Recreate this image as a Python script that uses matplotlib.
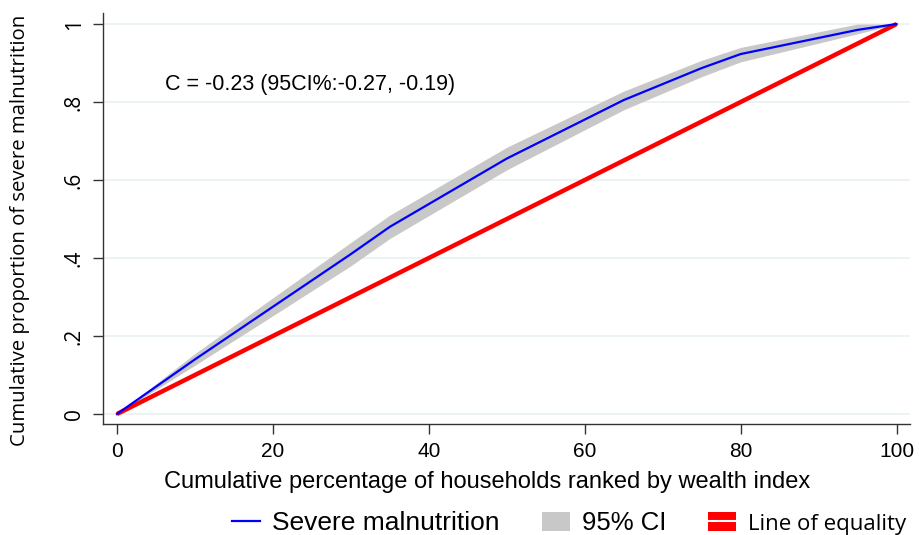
import matplotlib
matplotlib.use("Agg")
import matplotlib.pyplot as plt
from matplotlib.patches import Patch
from matplotlib.lines import Line2D

# Data
pct = [0, 10, 20, 30, 35, 50, 65, 75, 80, 95, 100]
severe = [0, 0.14, 0.275, 0.41, 0.48, 0.655, 0.805, 0.887, 0.923, 0.985, 1.0]
ci_upper = [0, 0.155, 0.298, 0.44, 0.51, 0.684, 0.828, 0.907, 0.94, 1.0, 1.0]
ci_lower = [0, 0.125, 0.252, 0.38, 0.45, 0.626, 0.78, 0.865, 0.903, 0.975, 1.0]
equality_x = [0, 100]
equality_y = [0, 1]
xticks = [0, 20, 40, 60, 80, 100]
yticks = [0, 0.2, 0.4, 0.6, 0.8, 1.0]
yticklabels = ["0", ".2", ".4", ".6", ".8", "1"]
annotation = "C = -0.23 (95CI%:-0.27, -0.19)"

plt.rcParams['font.family'] = ['Liberation Sans', 'DejaVu Sans']

fig = plt.figure(figsize=(9.19, 5.35), dpi=100)
ax = fig.add_axes([0.112, 0.2075, 0.878, 0.768])

for yt in yticks:
    ax.axhline(yt, color='#e9f1f2', lw=1.2, zorder=0)

ax.fill_between(pct, ci_lower, ci_upper, color='#c8c8c8', lw=0, zorder=1)
ax.plot(equality_x, equality_y, color='#ff0000', lw=3.2, zorder=2, solid_capstyle='butt')
ax.plot(pct, severe, color='#0000ff', lw=1.6, zorder=3)

ax.set_xlim(-1.8, 101.7)
ax.set_ylim(-0.0256, 1.028)
ax.set_xticks(xticks)
ax.set_xticklabels([str(x) for x in xticks], fontsize=15)
ax.set_yticks(yticks)
ax.set_yticklabels(yticklabels, fontsize=15, rotation=90, va='center',
                   family=['Open Sans', 'DejaVu Sans'])
ax.tick_params(axis='both', direction='out', length=7, width=1, color='#333333', pad=6)
ax.spines['top'].set_visible(False)
ax.spines['right'].set_visible(False)
for s in ('left', 'bottom'):
    ax.spines[s].set_color('#333333')
    ax.spines[s].set_linewidth(1)

ax.set_xlabel("Cumulative percentage of households ranked by wealth index", fontsize=17)
ax.xaxis.set_label_coords((487 - 103) / (919 * 0.878), (424 - 482) / (535 * 0.768), transform=ax.transAxes)
ax.xaxis.label.set_va('center')
ax.set_ylabel("Cumulative proportion of severe malnutrition", fontsize=14.7,
              family=['Open Sans', 'DejaVu Sans'])
ax.yaxis.set_label_coords((20 - 103) / (919 * 0.878), (424 - 230) / (535 * 0.768), transform=ax.transAxes)
ax.yaxis.label.set_va('center')

ax.text(6.2, 0.846, annotation, fontsize=15.5, va='center', ha='left')

h1 = Line2D([], [], color='#0000ff', lw=1.6)
h2 = Patch(facecolor='#c8c8c8', edgecolor='none')
h3 = (Patch(facecolor='#ff0000', edgecolor='none'), Line2D([], [], color='white', lw=1.5))
leg = fig.legend([h1, h2, h3], ["Severe malnutrition", "95% CI", "Line of equality"],
                 loc='center left', bbox_to_anchor=(0.2525, 0.022), ncol=3, frameon=False,
                 fontsize=18.5, handlelength=1.1, handleheight=0.75, columnspacing=1.62,
                 handletextpad=0.47, borderpad=0, borderaxespad=0)
leg.get_texts()[0].set_fontsize(19)
leg.get_texts()[2].set_family(['Open Sans', 'DejaVu Sans'])
leg.get_texts()[2].set_fontsize(16)

fig.savefig("out.png", dpi=100)
